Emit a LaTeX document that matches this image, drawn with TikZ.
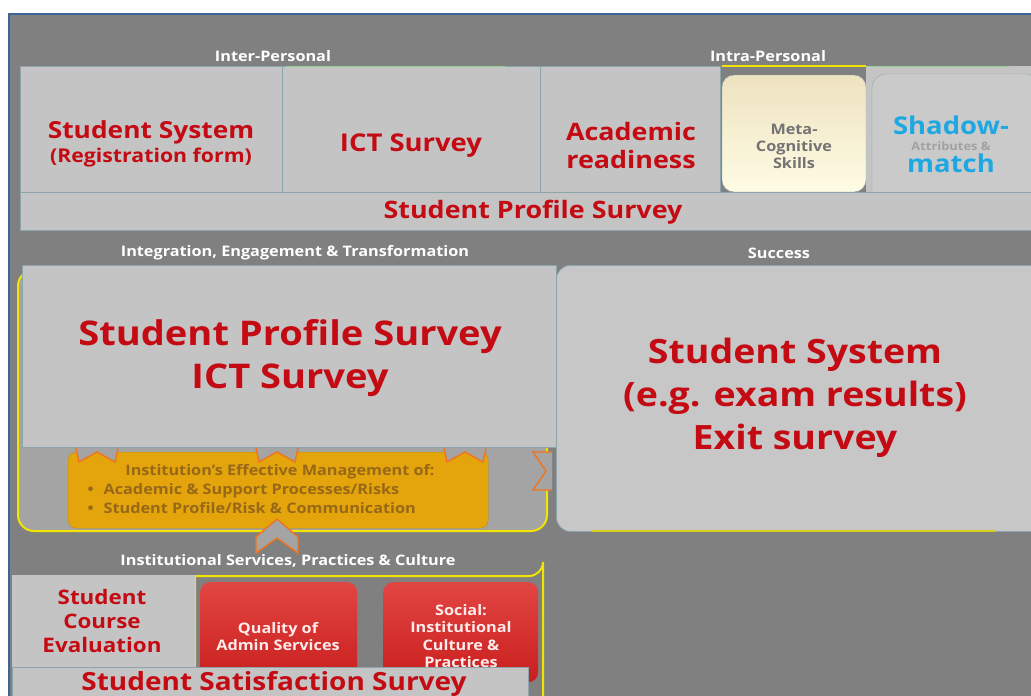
\documentclass[tikz,border=0pt]{standalone}
\usepackage{fontspec}
\setmainfont{Open Sans}[FakeStretch=1.12]

\definecolor{bggray}{RGB}{128,128,128}
\definecolor{boxgray}{RGB}{196,196,196}
\definecolor{midgray}{RGB}{164,164,164}
\definecolor{boxline}{RGB}{140,164,170}
\definecolor{textred}{RGB}{196,10,18}
\definecolor{skyblue}{RGB}{30,168,226}
\definecolor{creamtop}{RGB}{238,226,192}
\definecolor{creambot}{RGB}{254,252,228}
\definecolor{goldbox}{RGB}{228,164,12}
\definecolor{goldtext}{RGB}{150,104,24}
\definecolor{chevron}{RGB}{240,116,30}
\definecolor{lineyellow}{RGB}{240,228,0}
\definecolor{redtop}{RGB}{226,70,66}
\definecolor{redbot}{RGB}{200,30,30}
\definecolor{frameblue}{RGB}{60,100,150}

\newcommand{\fsz}[2]{\fontsize{#1}{#2}\selectfont\bfseries}

\tikzset{
  panel/.style={draw=boxline, fill=boxgray, line width=0.8pt, inner sep=0pt, anchor=north west},
  head/.style={text=white, font=\fsz{14.5}{16}},
  redtext/.style={text=textred, align=center},
  chev/.style={draw=chevron, fill=midgray, line width=1.4pt, line join=miter},
  redrect/.style={rounded corners=10pt, top color=redtop, bottom color=redbot, inner sep=0pt, anchor=north west},
}

\begin{document}
\begin{tikzpicture}[x=1pt,y=-1pt]
\useasboundingbox (0,0) rectangle (1031,696);
\fill[white] (0,0) rectangle (1031,696);
\fill[bggray] (9,14) rectangle (1031,696);
\draw[frameblue, line width=1.5pt] (9,696) -- (9,14) -- (1031,14); % frame

% top row: personal
\node[head] (interlbl) at (273,56) {Inter-Personal};
\node[head] (intralbl) at (768,56) {Intra-Personal};
\node[panel, minimum width=262, minimum height=126] (regbox) at (20,66) {};
\node[panel, minimum width=258, minimum height=126] (ictbox) at (282,66) {};
\node[panel, minimum width=180, minimum height=126] (acadbox) at (540,66) {};
\fill[boxgray] (866,66) rectangle (1031,192);
\draw[boxline, fill=boxgray!90!white, rounded corners=14pt] (872,192) -- (872,74) -- (1040,74) -- (1040,192); % shadow
\draw[boxline, top color=creamtop, bottom color=creambot, rounded corners=12pt] (722,192) -- (722,75) -- (866,75) -- (866,192) -- cycle; % meta
\draw[lineyellow, line width=2.5pt] (722,66) -- (866,66);
\draw[green!40!gray!60!white, line width=1pt] (866,66) -- (1010,66);
\draw[green!40!gray!60!white, line width=1pt] (286,66) -- (505,66);

\node[redtext, font=\fsz{23.5}{26}] (regtxt) at (151,132) {Student System};
\node[redtext, font=\fsz{19}{21}] (regsub) at (151,158) {(Registration form)};
\node[redtext, font=\fsz{24.5}{27}] (icttxt) at (411,146) {ICT Survey};
\node[redtext, font=\fsz{24}{28}] (acadtxt) at (631,145) {Academic\\readiness};
\node[text=black!55, align=center, font=\fsz{14.5}{17}] (metatxt) at (794,146) {Meta-\\Cognitive\\Skills};
\node[text=boxgray!82!black, font=\fsz{11.5}{13}, inner sep=0pt] (attrtxt) at (951,146) {Attributes \&};
\node[text=skyblue, font=\fsz{24.5}{26}, inner sep=0pt] (shadtxt) at (951,125) {Shadow-};
\node[text=skyblue, font=\fsz{24.5}{26}, inner sep=0pt] (matchtxt) at (951,163) {match};

\node[panel, minimum width=1020, minimum height=38] (profbar) at (20,192) {};
\node[redtext, font=\fsz{24}{26}] (proftxt) at (533,212) {Student Profile Survey};

% middle row
\node[head] (integlbl) at (295,253) {Integration, Engagement \& Transformation};
\node[head] (succlbl) at (779,253) {Success};
\draw[lineyellow, line width=2pt, fill=midgray, rounded corners=16pt] (18,270) rectangle (547,531);
\node[anchor=north west, rounded corners=8pt, fill=goldbox, draw=goldbox!85!black, minimum width=420, minimum height=76, inner sep=0pt] (mgmt) at (68,452) {};
\node[text=goldtext, font=\fsz{14.5}{16}] (mgmttitle) at (280,472) {Institution's Effective Management of:};
\node[text=goldtext, font=\fsz{14.5}{16}, anchor=west] (mgmtone) at (84,491) {\textbullet\hspace{10pt}Academic \& Support Processes/Risks};
\node[text=goldtext, font=\fsz{14.5}{16}, anchor=west] (mgmttwo) at (84,508) {\textbullet\hspace{10pt}Student Profile/Risk \& Communication};
\node[panel, minimum width=534, minimum height=182] (ictmid) at (22,265) {};
\node[redtext, font=\fsz{34}{43}] (ictmidtxt) at (290,358) {Student Profile Survey\\ICT Survey};
\foreach \cx in {97,277,465}
  \draw[chev] (\cx-21,448) -- (\cx-18,462) -- (\cx,452) -- (\cx+18,462) -- (\cx+21,448);
\draw[chev] (552,452) -- (533,452) -- (546,471) -- (533,490) -- (552,490);
\node[panel, rounded corners=14pt, fill=boxgray!95!white, minimum width=490, minimum height=266] (succbox) at (556,265) {};
\draw[lineyellow!80!gray, line width=1.2pt] (592,531) -- (996,531);
\node[redtext, font=\fsz{33.5}{43}] (succtxt) at (795,398) {Student System\\(e.g. exam results)\\Exit survey};

% bottom row
\draw[chev] (277,519) -- (298,537) -- (298,553) -- (277,538) -- (256,553) -- (256,537) -- cycle;
\node[head] (instlbl) at (288,561) {Institutional Services, Practices \& Culture};
\draw[lineyellow, line width=2pt] (195,700) -- (195,576) -- (529,576) arc (90:0:14) -- (543,700);
\node[panel, draw=none, minimum width=183, minimum height=93] (evalbox) at (12,575) {};
\node[redtext, font=\fsz{20}{24}] (evaltxt) at (102,621) {Student\\Course\\Evaluation};
\node[redrect, minimum width=157, minimum height=100] (adminbox) at (200,582) {};
\node[text=white!92!red, align=center, font=\fsz{14.5}{17}] (admintxt) at (278,637) {Quality of\\Admin Services};
\node[redrect, minimum width=155, minimum height=100] (socbox) at (383,582) {};
\node[text=white!92!red, align=center, font=\fsz{14.5}{17.5}] (soctxt) at (461,636) {Social:\\Institutional\\Culture \&\\Practices};
\node[panel, minimum width=516, minimum height=34] (satbar) at (12,667) {};
\node[redtext, font=\fsz{25}{27}] (sattxt) at (274,684) {Student Satisfaction Survey};
\end{tikzpicture}
\end{document}
